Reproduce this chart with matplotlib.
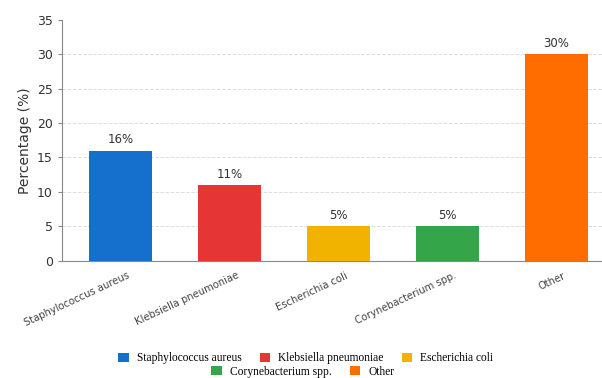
import numpy as np
import matplotlib.pyplot as plt

# bar data
organisms = ["Staphylococcus aureus", "Klebsiella pneumoniae", "Escherichia coli",
             "Corynebacterium spp.", "Other"]
percent = [16, 11, 5, 5, 30]
colors = ["#1470CC", "#E53535", "#F2B300", "#34A549", "#FF6D00"]

fig = plt.figure(figsize=(6.02, 3.78), dpi=100)
ax = fig.add_axes([0.103, 0.31, 0.897, 0.638])

x = np.arange(len(organisms))
bars = ax.bar(x, percent, width=0.58, color=colors, label=organisms, zorder=3)

# value labels above the bars
for xi, v in zip(x, percent):
    ax.text(xi, v + 0.6, f"{v}%", ha="center", va="bottom", fontsize=8.5, color="#333333")

ax.set_xlim(-0.54, 4.42)
ax.set_ylim(0, 35)
ax.set_yticks(range(0, 36, 5))
# labels sit slightly right of the bar centres (ticks themselves are hidden)
ax.set_xticks(x + 0.06)
ax.set_xticklabels(organisms, rotation=25, ha="right", rotation_mode="anchor",
                   fontsize=7.2, color="#444444")
ax.tick_params(axis="y", labelsize=9, colors="#333333", length=3, color="#888888")
ax.tick_params(axis="x", length=0, pad=7)
ax.set_ylabel("Percentage (%)", fontsize=10, color="#333333")

for yv in range(5, 31, 5):
    ax.axhline(yv, color="#dddddd", linestyle="--", linewidth=0.7, zorder=0)

for s in ["top", "right"]:
    ax.spines[s].set_visible(False)
ax.spines["left"].set_color("#888888")
ax.spines["bottom"].set_color("#888888")

# legend in two rows: three items then two
leg_font = {"family": "Liberation Serif", "size": 8.3}
leg_kw = dict(frameon=False, prop=leg_font, handlelength=0.9, handleheight=0.9,
              columnspacing=1.6, handletextpad=0.7, borderpad=0, loc="center")
leg1 = fig.legend(handles=list(bars[:3]), labels=organisms[:3], ncol=3,
                  bbox_to_anchor=(0.508, 0.052), **leg_kw)
leg2 = fig.legend(handles=list(bars[3:]), labels=organisms[3:], ncol=2,
                  bbox_to_anchor=(0.503, 0.017), **leg_kw)

fig.savefig("out.png", dpi=100)
